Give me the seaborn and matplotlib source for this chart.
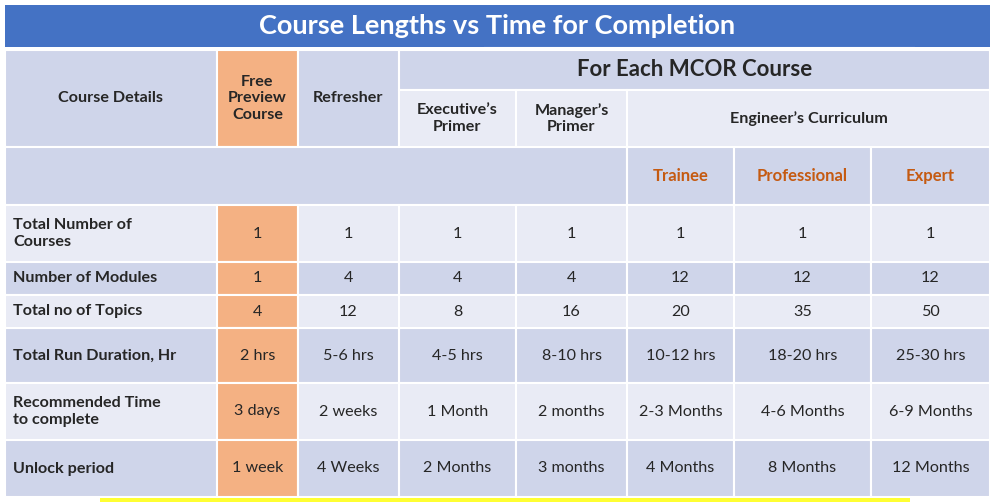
import matplotlib
matplotlib.use("Agg")
import matplotlib.pyplot as plt
from matplotlib.patches import Rectangle
import seaborn as sns

sns.set_theme(style="white")
plt.rcParams['font.family'] = ['Lato', 'DejaVu Sans']

title = "Course Lengths vs Time for Completion"
row_labels = ["Total Number of\nCourses", "Number of Modules", "Total no of Topics",
              "Total Run Duration, Hr", "Recommended Time\nto complete", "Unlock period"]
col_names = ["Free\nPreview\nCourse", "Refresher", "Executive’s\nPrimer", "Manager’s\nPrimer",
             "Trainee", "Professional", "Expert"]
values = [
    ["1", "1", "1", "1", "1", "1", "1"],
    ["1", "4", "4", "4", "12", "12", "12"],
    ["4", "12", "8", "16", "20", "35", "50"],
    ["2 hrs", "5-6 hrs", "4-5 hrs", "8-10 hrs", "10-12 hrs", "18-20 hrs", "25-30 hrs"],
    ["3 days", "2 weeks", "1 Month", "2 months", "2-3 Months", "4-6 Months", "6-9 Months"],
    ["1 week", "4 Weeks", "2 Months", "3 months", "4 Months", "8 Months", "12 Months"],
]

xs = [5, 217, 298, 399, 516, 627, 734, 871, 990]
ys = [205, 262, 295, 328, 383, 440, 497]
DARK, LIGHT, ORANGE, BLUE = "#CFD5EA", "#E9EBF5", "#F4B183", "#4472C4"
FS = 11.6

fig = plt.figure(figsize=(9.94, 5.04), dpi=100)
ax = fig.add_axes([0, 0, 1, 1])
ax.set_xlim(0, 994); ax.set_ylim(504, 0); ax.axis("off")

def cell(x0, y0, x1, y1, fc, text="", **kw):
    ax.add_patch(Rectangle((x0, y0), x1 - x0, y1 - y0, facecolor=fc, edgecolor="white", lw=1.5))
    if text:
        ax.text((x0 + x1) / 2, (y0 + y1) / 2, text, ha="center", va="center",
                fontsize=kw.pop("fontsize", FS), linespacing=1.2, **kw)

# title
ax.add_patch(Rectangle((5, 5), 985, 42, facecolor=BLUE, edgecolor="none"))
ax.text(497, 26, title, ha="center", va="center", color="white", fontsize=19.5, fontweight="bold")
ax.plot([484, 915], [47.5, 47.5], color="white", lw=1.5)

# header
cell(xs[0], 50, xs[1], 147, DARK, "Course Details", fontweight="bold")
cell(xs[1], 50, xs[2], 147, ORANGE, col_names[0], fontweight="bold")
cell(xs[2], 50, xs[3], 147, DARK, col_names[1], fontweight="bold")
cell(xs[3], 50, xs[8], 90, DARK, "For Each MCOR Course", fontweight="bold", fontsize=16)
cell(xs[3], 90, xs[4], 147, LIGHT, col_names[2], fontweight="bold")
cell(xs[4], 90, xs[5], 147, LIGHT, col_names[3], fontweight="bold")
cell(xs[5], 90, xs[8], 147, LIGHT, "Engineer’s Curriculum", fontweight="bold")
cell(xs[0], 147, xs[5], 205, DARK)
for j in range(4, 7):
    cell(xs[j + 1], 147, xs[j + 2], 205, DARK, col_names[j], fontweight="bold", color="#C55A11", fontsize=12)

# body
for i, lab in enumerate(row_labels):
    fc = LIGHT if i % 2 == 0 else DARK
    y0, y1 = ys[i], ys[i + 1]
    ax.add_patch(Rectangle((xs[0], y0), xs[1] - xs[0], y1 - y0, facecolor=fc, edgecolor="white", lw=1.5))
    ax.text(xs[0] + 8, (y0 + y1) / 2, lab, ha="left", va="center", fontsize=FS,
            fontweight="bold", linespacing=1.25)
    for j, v in enumerate(values[i]):
        cell(xs[j + 1], y0, xs[j + 2], y1, ORANGE if j == 0 else fc, v, fontsize=FS)

ax.add_patch(Rectangle((100, 498), 810, 4, facecolor="#FFFF33", edgecolor="none"))
fig.savefig("out.png", dpi=100)
